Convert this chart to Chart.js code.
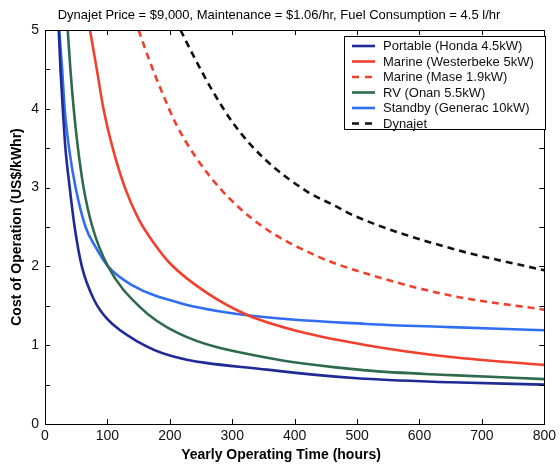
<!DOCTYPE html>
<html>
<head>
<meta charset="utf-8">
<script src="https://cdn.jsdelivr.net/npm/chart.js@4/dist/chart.umd.min.js"></script>
<style>
  html, body { margin: 0; padding: 0; background: #fff; }
  #wrap { width: 560px; height: 468px; position: relative; }
</style>
</head>
<body>
<div id="wrap"><canvas id="c" width="560" height="468"></canvas></div>
<script>
// Yearly operating hours and cost (US$/kWhr) for each generator
const portableHours = [22, 24.8, 28.5, 32.7, 39.6, 47.5, 59, 79, 100, 150, 200, 356, 500, 650, 800];
const portableCost  = [5, 4.5, 4, 3.5, 3, 2.5, 2.0, 1.57, 1.33, 1.04, 0.87, 0.69, 0.58, 0.53, 0.50];

const westerbekeHours = [72, 83, 93.7, 108.5, 128, 150, 175, 200, 260, 325, 409, 515, 650, 800];
const westerbekeCost  = [5, 4.5, 4, 3.5, 3, 2.6, 2.29, 2.04, 1.66, 1.38, 1.17, 1.0, 0.85, 0.75];

const maseHours = [150, 166, 187, 211, 243, 285, 346, 436, 510, 650, 800];
const maseCost  = [5, 4.64, 4.22, 3.79, 3.37, 2.95, 2.52, 2.13, 1.92, 1.63, 1.45];

const onanHours = [36.4, 40.7, 46, 52.8, 61.8, 76, 101, 150, 214, 356, 515, 650, 800];
const onanCost  = [5, 4.5, 4, 3.5, 3, 2.5, 2.0, 1.5, 1.15, 0.84, 0.68, 0.62, 0.57];

const generacHours = [22.8, 27.5, 31.5, 38.5, 49, 65, 80, 101, 140, 214, 325, 515, 650, 800];
const generacCost  = [5, 4.5, 4, 3.5, 3, 2.5, 2.26, 2.0, 1.76, 1.54, 1.38, 1.27, 1.23, 1.19];

const dynajetHours = [217, 240, 269, 304, 351, 420, 462, 499, 650, 800];
const dynajetCost  = [5, 4.64, 4.22, 3.79, 3.37, 2.95, 2.78, 2.63, 2.23, 1.95];

const xTickValues = [0, 100, 200, 300, 400, 500, 600, 700, 800];
const yTickValues = [0, 1, 2, 3, 4, 5];

const titleText = 'Dynajet Price = $9,000, Maintenance = $1.06/hr, Fuel Consumption = 4.5 l/hr';
const xTitle = 'Yearly Operating Time (hours)';
const yTitle = 'Cost of Operation (US$/kWhr)';

const FONT = '"Liberation Sans", Arial, Helvetica, sans-serif';

function pts(xs, ys) { return xs.map((x, i) => ({ x: x, y: ys[i] })); }

function series(label, xs, ys, color, dash) {
  return {
    label: label,
    data: pts(xs, ys),
    borderColor: color,
    backgroundColor: color,
    borderWidth: 2.6,
    borderDash: dash || [],
    pointRadius: 0,
    fill: false,
    cubicInterpolationMode: 'monotone'
  };
}

const datasets = [
  series('Portable (Honda 4.5kW)', portableHours, portableCost, '#1f2a96'),
  series('Marine (Westerbeke 5kW)', westerbekeHours, westerbekeCost, '#f2402e'),
  series('Marine (Mase 1.9kW)', maseHours, maseCost, '#f2402e', [7, 5]),
  series('RV (Onan 5.5kW)', onanHours, onanCost, '#2e6a4c'),
  series('Standby (Generac 10kW)', generacHours, generacCost, '#2f6ef2'),
  series('Dynajet', dynajetHours, dynajetCost, '#111111', [7, 5])
];

// Frame, inward ticks on all four sides, titles and the boxed legend
const framePlugin = {
  id: 'frame',
  afterDraw(chart) {
    const ctx = chart.ctx;
    const a = chart.chartArea;
    const xs = chart.scales.x, ys = chart.scales.y;
    ctx.save();
    ctx.strokeStyle = '#000';
    ctx.lineWidth = 1;
    ctx.strokeRect(Math.round(a.left) + 0.5, Math.round(a.top) + 0.5,
                   Math.round(a.right - a.left), Math.round(a.bottom - a.top));
    const tl = 5;
    ctx.beginPath();
    for (let v = 0; v <= 800; v += 100) {
      const px = Math.round(xs.getPixelForValue(v)) + 0.5;
      ctx.moveTo(px, a.bottom); ctx.lineTo(px, a.bottom - tl);
      ctx.moveTo(px, a.top); ctx.lineTo(px, a.top + tl);
    }
    for (let v = 0; v <= 5; v += 0.5) {
      const py = Math.round(ys.getPixelForValue(v)) + 0.5;
      ctx.moveTo(a.left, py); ctx.lineTo(a.left + tl, py);
      ctx.moveTo(a.right, py); ctx.lineTo(a.right - tl, py);
    }
    ctx.stroke();

    // chart title
    ctx.fillStyle = '#000';
    ctx.font = '13px ' + FONT;
    ctx.textAlign = 'center';
    ctx.textBaseline = 'middle';
    ctx.fillText(titleText, 279, 15);

    // axis titles
    ctx.font = 'bold 14px ' + FONT;
    ctx.fillText(xTitle, 281, 455);
    ctx.save();
    ctx.translate(17, 227);
    ctx.rotate(-Math.PI / 2);
    ctx.fillText(yTitle, 0, 0);
    ctx.restore();

    // legend
    const bx = 344.5, by = 36.5, bw = 201, bh = 93;
    ctx.fillStyle = '#fff';
    ctx.fillRect(bx, by, bw, bh);
    ctx.strokeStyle = '#000';
    ctx.lineWidth = 1;
    ctx.strokeRect(bx, by, bw, bh);
    ctx.font = '13px ' + FONT;
    ctx.textAlign = 'left';
    chart.data.datasets.forEach((ds, i) => {
      const ry = 46 + i * 15.5;
      ctx.strokeStyle = ds.borderColor;
      ctx.lineWidth = 2.6;
      ctx.setLineDash(ds.borderDash.length ? [7, 6] : []);
      ctx.beginPath();
      ctx.moveTo(352, ry); ctx.lineTo(375, ry);
      ctx.stroke();
      ctx.setLineDash([]);
      ctx.fillStyle = '#111';
      ctx.fillText(ds.label, 383, ry + 0.5);
    });
    ctx.restore();
  }
};

new Chart(document.getElementById('c'), {
  type: 'line',
  data: { datasets: datasets },
  options: {
    responsive: false,
    animation: false,
    devicePixelRatio: 1,
    layout: { padding: { top: 30, right: 10, left: 0, bottom: 0 } },
    plugins: { legend: { display: false }, title: { display: false }, tooltip: { enabled: false } },
    scales: {
      x: {
        type: 'linear', min: 0, max: 800,
        afterFit(s) { s.height = 44; },
        afterBuildTicks(s) { s.ticks = xTickValues.map(v => ({ value: v })); },
        grid: { display: false, drawTicks: false },
        border: { display: false },
        ticks: { color: '#111', padding: 4, maxRotation: 0, font: { family: FONT, size: 14 } }
      },
      y: {
        type: 'linear', min: 0, max: 5,
        afterFit(s) { s.width = 45; },
        afterBuildTicks(s) { s.ticks = yTickValues.map(v => ({ value: v })); },
        grid: { display: false, drawTicks: false },
        border: { display: false },
        ticks: { color: '#111', padding: 6, font: { family: FONT, size: 14 } }
      }
    }
  },
  plugins: [framePlugin]
});
</script>
</body>
</html>
